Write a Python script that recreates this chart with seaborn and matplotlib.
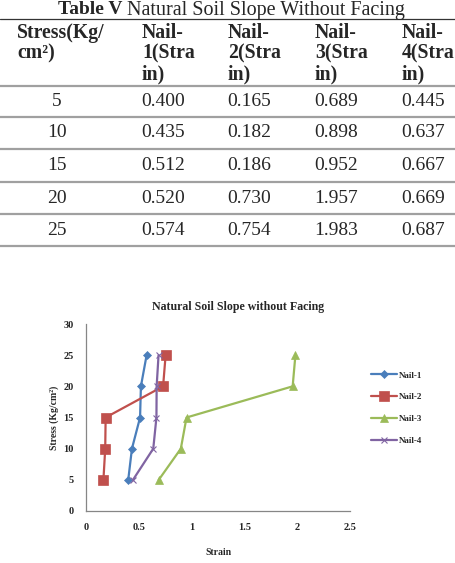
import seaborn as sns
import matplotlib.pyplot as plt
import pandas as pd
from matplotlib.lines import Line2D

# 표 / 그래프 데이터
stress = [5, 10, 15, 20, 25]
nail_1 = [0.400, 0.435, 0.512, 0.520, 0.574]
nail_2 = [0.165, 0.182, 0.186, 0.730, 0.754]
nail_3 = [0.689, 0.898, 0.952, 1.957, 1.983]
nail_4 = [0.445, 0.637, 0.667, 0.669, 0.687]
nail_names = ['Nail-1', 'Nail-2', 'Nail-3', 'Nail-4']
headers = ['Stress(Kg/\ncm²)', 'Nail-\n1(Stra\nin)', 'Nail-\n2(Stra\nin)',
           'Nail-\n3(Stra\nin)', 'Nail-\n4(Stra\nin)']
x_ticks = [0, 0.5, 1, 1.5, 2, 2.5]
x_tick_labels = ['0', '0.5', '1', '1.5', '2', '2.5']
y_ticks = [0, 5, 10, 15, 20, 25, 30]

colors = ['#4a7ebb', '#c0504d', '#9bbb59', '#8064a2']
markers = ['D', 's', '^', 'x']
msizes = [4, 6.5, 5.5, 5]

sns.set_style('white')
plt.rcParams['font.family'] = ['Liberation Serif', 'DejaVu Serif']

W, H = 455, 563
fig = plt.figure(figsize=(W / 100, H / 100), dpi=100)

def fx(px):
    return px / W

def fy(py):
    return 1 - py / H

# 표 제목
fig.text(fx(58), fy(10), 'Table V', fontsize=14, fontweight='bold', va='center', ha='left')
fig.text(fx(127), fy(10), 'Natural Soil Slope Without Facing', fontsize=14.5, va='center', ha='left')

# 표 선
fig.add_artist(Line2D([0, 1], [fy(19), fy(19)], color='#333333', lw=0.9))
for yy in [86, 117, 149, 182, 214, 246]:
    fig.add_artist(Line2D([0, 1], [fy(yy), fy(yy)], color='#a0a0a0', lw=1.6))

# 헤더
col_x = [17, 142, 228, 315, 402]
for x, h in zip(col_x, headers):
    fig.text(fx(x), fy(23), h, fontsize=14.2, fontweight='bold', va='top', ha='left',
             linespacing=1.04)

# 본문
row_y = [101.5, 133, 165.5, 198, 230]
cols = [nail_1, nail_2, nail_3, nail_4]
for i, s in enumerate(stress):
    fig.text(fx(57), fy(row_y[i]), str(s), fontsize=14, va='center', ha='center')
    for x, c in zip(col_x[1:], cols):
        fig.text(fx(x - 1), fy(row_y[i]), '%.3f' % c[i], fontsize=14, va='center', ha='left')

# 그래프
ax = fig.add_axes([fx(86), 1 - 511 / H, fx(350) - fx(86), (511 - 324) / H])
for name, vals, col, mk, ms in zip(nail_names, cols, colors, markers, msizes):
    df = pd.DataFrame({'Strain': vals, 'Stress': stress})
    sns.lineplot(data=df, x='Strain', y='Stress', sort=False, ax=ax, color=col,
                 marker=mk, markersize=ms, linewidth=1.6, label=name,
                 markeredgecolor=col, markeredgewidth=0.8 if mk == 'x' else 0.5)

ax.set_xlim(0, 2.5)
ax.set_ylim(0, 30)
ax.set_xticks(x_ticks)
ax.set_xticklabels(x_tick_labels)
ax.set_yticks(y_ticks)
ax.tick_params(length=0, labelsize=7.5, pad=9)
for lab in ax.get_xticklabels() + ax.get_yticklabels():
    lab.set_fontweight('bold')
for side in ['top', 'right']:
    ax.spines[side].set_visible(False)
for side in ['left', 'bottom']:
    ax.spines[side].set_color('#868686')
    ax.spines[side].set_linewidth(0.9)

ax.set_title('Natural Soil Slope without Facing', fontsize=8.6, fontweight='bold',
             pad=10, x=0.576)
ax.set_xlabel('Strain', fontsize=7, fontweight='bold', labelpad=11)
ax.set_ylabel('Stress (Kg/cm²)', fontsize=7, fontweight='bold', labelpad=3)

leg = ax.legend(loc='center left', bbox_to_anchor=(1.05, 0.55), frameon=False,
                fontsize=6.5, handlelength=2.8, labelspacing=1.5, handletextpad=0.3)
for t in leg.get_texts():
    t.set_fontweight('bold')

fig.savefig('out.png', dpi=100)
